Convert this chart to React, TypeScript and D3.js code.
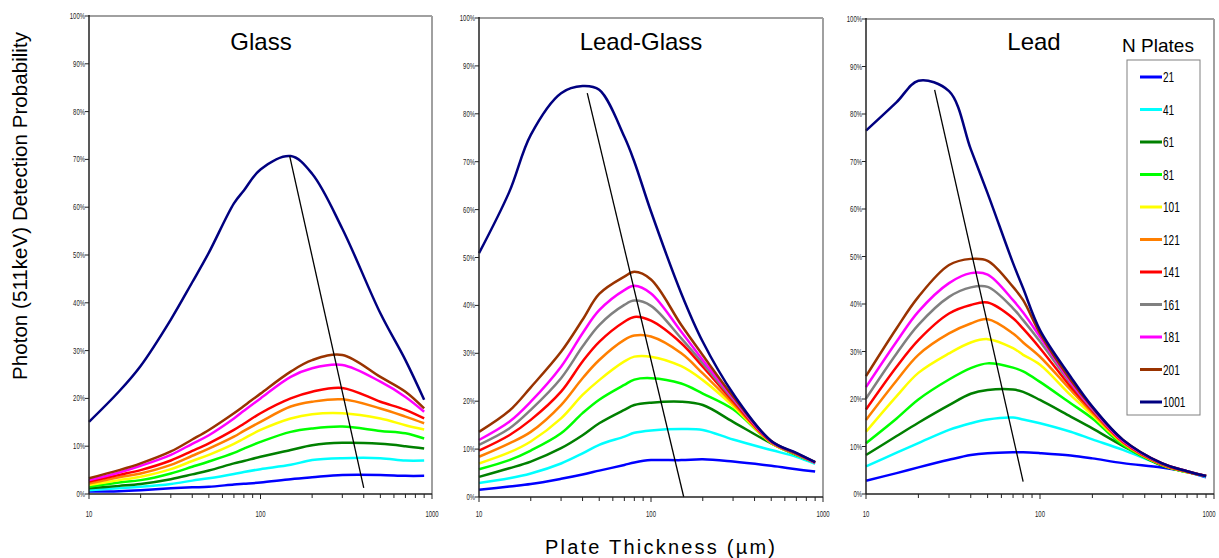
import React from 'react';
import * as d3 from 'd3';

// plate thickness (µm) sampled along x
const thickness = [10, 15, 20, 30, 40, 50, 70, 80, 100, 150, 200, 300, 500, 700, 900];
const nPlates = ['21', '41', '61', '81', '101', '121', '141', '161', '181', '201', '1001'];
const colors = ['#0000ff', '#00ffff', '#008000', '#00ff00', '#ffff00', '#ff7f00', '#ff0000', '#808080', '#ff00ff', '#993300', '#000080'];

// Glass (no 161 series drawn)
const glass21 = [0.5, 0.6, 0.8, 1.2, 1.4, 1.5, 2.0, 2.15, 2.4, 3.1, 3.5, 4.0, 4.0, 3.8, 3.8];
const glass41 = [0.8, 1.2, 1.5, 2.1, 2.8, 3.3, 4.2, 4.6, 5.2, 6.1, 7.1, 7.5, 7.5, 7.0, 7.0];
const glass61 = [1.2, 1.7, 2.1, 3.1, 4.1, 4.9, 6.4, 6.9, 7.8, 9.2, 10.2, 10.7, 10.5, 10.0, 9.5];
const glass81 = [1.5, 2.4, 2.9, 4.3, 5.7, 6.8, 8.6, 9.5, 10.9, 13.0, 13.7, 14.1, 13.2, 12.7, 11.6];
const glass101 = [1.9, 2.9, 3.6, 5.2, 6.9, 8.2, 10.5, 11.6, 13.4, 15.8, 16.7, 16.9, 15.8, 14.4, 13.5];
const glass121 = [2.2, 3.5, 4.3, 6.1, 8.0, 9.5, 12.0, 13.2, 15.1, 18.3, 19.3, 19.8, 17.9, 16.2, 14.8];
const glass141 = [2.6, 4.0, 5.0, 7.0, 9.0, 10.6, 13.4, 14.7, 16.9, 20.0, 21.4, 22.2, 19.3, 17.6, 15.8];
const glass181 = [2.9, 4.5, 5.9, 8.2, 10.5, 12.3, 15.8, 17.4, 20.0, 24.5, 26.3, 27.0, 23.5, 20.3, 17.2];
const glass201 = [3.3, 5.0, 6.4, 8.9, 11.4, 13.4, 16.9, 18.4, 21.0, 25.6, 28.0, 29.1, 24.5, 21.4, 17.9];
const glass1001 = [15.1, 21.5, 26.8, 36.5, 44.3, 50.5, 60.8, 63.5, 67.9, 70.7, 67.0, 55.5, 37.8, 28.0, 19.7];

// Lead-Glass
const leadGlass21 = [1.5, 2.2, 2.7, 3.8, 4.7, 5.5, 6.7, 7.2, 7.7, 7.7, 7.9, 7.4, 6.5, 5.8, 5.3];
const leadGlass41 = [2.9, 3.9, 4.9, 7.0, 9.1, 10.9, 12.6, 13.4, 13.9, 14.2, 14.0, 12.0, 9.8, 8.4, 6.9];
const leadGlass61 = [4.2, 6.0, 7.4, 10.2, 12.9, 15.4, 18.2, 19.2, 19.7, 19.9, 19.2, 15.7, 11.2, 8.8, 7.2];
const leadGlass81 = [5.8, 7.7, 9.7, 13.3, 17.5, 20.3, 23.4, 24.5, 24.8, 23.7, 21.6, 18.3, 11.3, 8.8, 7.2];
const leadGlass101 = [7.0, 9.3, 11.6, 16.4, 21.3, 24.4, 28.3, 29.3, 29.3, 27.3, 24.4, 19.0, 11.3, 8.9, 7.2];
const leadGlass121 = [8.4, 11.2, 13.6, 19.2, 24.8, 28.6, 32.8, 33.7, 33.5, 30.0, 25.8, 19.5, 11.4, 8.9, 7.2];
const leadGlass141 = [9.7, 12.9, 16.1, 22.0, 28.3, 32.4, 36.6, 37.6, 36.8, 32.1, 27.2, 20.0, 11.5, 9.0, 7.2];
const leadGlass161 = [10.9, 14.3, 18.2, 24.8, 31.4, 35.9, 40.1, 41.0, 39.9, 33.1, 27.9, 20.4, 11.6, 9.0, 7.2];
const leadGlass181 = [11.9, 15.7, 19.9, 27.2, 34.2, 39.0, 43.2, 44.1, 42.5, 34.5, 28.6, 20.7, 11.6, 9.1, 7.2];
const leadGlass201 = [13.6, 18.0, 22.9, 30.3, 37.0, 42.4, 46.0, 47.0, 45.4, 35.9, 29.6, 21.0, 11.7, 9.1, 7.3];
const leadGlass1001 = [50.9, 63.7, 75.6, 84.3, 85.8, 85.0, 75.2, 70.0, 59.6, 42.5, 32.4, 21.6, 11.7, 9.2, 7.3];

// Lead
const lead21 = [2.8, 4.4, 5.6, 7.2, 8.2, 8.6, 8.8, 8.8, 8.6, 8.1, 7.5, 6.5, 5.6, 4.7, 3.5];
const lead41 = [5.8, 8.7, 10.7, 13.5, 14.9, 15.7, 16.1, 15.7, 14.9, 13.1, 11.5, 9.3, 6.1, 4.6, 3.6];
const lead61 = [8.2, 12.2, 15.0, 18.7, 21.1, 21.9, 22.0, 21.5, 19.8, 16.3, 13.8, 10.1, 6.0, 4.6, 3.8];
const lead81 = [10.7, 15.9, 19.9, 24.1, 26.5, 27.5, 26.6, 25.8, 23.6, 19.1, 15.9, 10.3, 6.1, 4.6, 3.8];
const lead101 = [13.1, 20.6, 25.5, 29.6, 31.9, 32.6, 30.7, 29.3, 27.2, 20.8, 16.6, 10.7, 6.2, 4.6, 3.8];
const lead121 = [15.6, 23.9, 29.3, 33.8, 35.9, 36.8, 33.8, 31.9, 28.9, 21.9, 17.1, 10.8, 6.2, 4.7, 3.8];
const lead141 = [17.8, 26.8, 32.4, 38.0, 39.8, 40.3, 37.0, 34.8, 30.7, 22.6, 17.5, 11.0, 6.3, 4.7, 3.8];
const lead161 = [20.1, 29.6, 35.6, 41.5, 43.5, 43.6, 39.1, 36.6, 32.1, 23.3, 17.8, 11.2, 6.4, 4.8, 3.8];
const lead181 = [22.5, 32.1, 38.4, 44.4, 46.5, 46.2, 40.8, 38.2, 33.1, 23.6, 18.0, 11.2, 6.5, 4.8, 3.8];
const lead201 = [24.8, 34.9, 41.5, 48.2, 49.5, 49.1, 43.6, 40.8, 33.8, 24.0, 18.2, 11.4, 6.5, 4.8, 3.8];
const lead1001 = [76.5, 82.5, 87.0, 84.8, 72.6, 63.3, 48.6, 43.3, 34.5, 24.7, 18.4, 11.4, 6.5, 4.8, 3.8];

// black optimum lines: [thickness, %]
const glassOptimum = [[148, 70.7], [400, 1.3]];
const leadGlassOptimum = [[42.6, 84.3], [155, 0]];
const leadOptimum = [[24.8, 85.1], [80, 2.6]];

const yTicks = [0, 10, 20, 30, 40, 50, 60, 70, 80, 90, 100];
const xTickLabels = [10, 100, 1000];

const font = '"Liberation Sans", Arial, Helvetica, sans-serif';

const panels = [
  {
    title: 'Glass', titleX: 261, left: 89, right: 432, top: 16, bottom: 494,
    series: [glass21, glass41, glass61, glass81, glass101, glass121, glass141, null, glass181, glass201, glass1001],
    optimum: glassOptimum,
  },
  {
    title: 'Lead-Glass', titleX: 641, left: 479, right: 823, top: 18, bottom: 497,
    series: [leadGlass21, leadGlass41, leadGlass61, leadGlass81, leadGlass101, leadGlass121, leadGlass141, leadGlass161, leadGlass181, leadGlass201, leadGlass1001],
    optimum: leadGlassOptimum,
  },
  {
    title: 'Lead', titleX: 1034, left: 866, right: 1214, top: 19, bottom: 494,
    series: [lead21, lead41, lead61, lead81, lead101, lead121, lead141, lead161, lead181, lead201, lead1001],
    optimum: leadOptimum,
  },
];

const minorTicks = d3.range(1, 3).flatMap((e) => d3.range(1, 10).map((m) => m * Math.pow(10, e)));

const Panel = ({ p }) => {
  const x = d3.scaleLog().domain([10, 1000]).range([p.left, p.right]);
  const y = d3.scaleLinear().domain([0, 100]).range([p.bottom, p.top]);
  const line = d3
    .line<number>()
    .x((_, i) => x(thickness[i]))
    .y((d) => y(d))
    .curve(d3.curveCatmullRom.alpha(0.5));

  return (
    <g>
      {/* frame */}
      <line x1={p.left} x2={p.right} y1={p.top} y2={p.top} stroke="#a0a0a0" strokeWidth={2} />
      <line x1={p.right} x2={p.right} y1={p.top} y2={p.bottom} stroke="#a0a0a0" strokeWidth={2} />

      {p.series.map((s, i) =>
        s ? <path key={i} d={line(s)} fill="none" stroke={colors[i]} strokeWidth={2.5} strokeLinejoin="round" /> : null
      )}

      <line
        x1={x(p.optimum[0][0])} y1={y(p.optimum[0][1])}
        x2={x(p.optimum[1][0])} y2={y(p.optimum[1][1])}
        stroke="#000" strokeWidth={1.3}
      />

      {/* axes */}
      <line x1={p.left} x2={p.left} y1={p.top - 1} y2={p.bottom} stroke="#222" strokeWidth={1.5} />
      <line x1={p.left} x2={p.right} y1={p.bottom} y2={p.bottom} stroke="#222" strokeWidth={1.5} />

      {yTicks.map((t) => (
        <g key={t} transform={`translate(${p.left}, ${y(t)})`}>
          <line x1={-4} x2={0} stroke="#222" />
          <text transform="translate(-4, 3) scale(0.7, 1)" textAnchor="end" fontSize={8.5} fill="#222" fontFamily={font}>
            {t}%
          </text>
        </g>
      ))}

      {minorTicks.concat([1000]).map((t) => (
        <line key={t} x1={x(t)} x2={x(t)} y1={p.bottom} y2={p.bottom + (t === 10 || t === 100 || t === 1000 ? 5 : 4)} stroke="#222" />
      ))}

      {xTickLabels.map((t) => (
        <text key={t} transform={`translate(${Math.min(x(t), 1209)}, 517) scale(0.7, 1)`} textAnchor="middle" fontSize={8.5} fill="#222" fontFamily={font}>
          {t}
        </text>
      ))}

      <text x={p.titleX} y={50} textAnchor="middle" fontSize={24} fontFamily={font} fill="#000">
        {p.title}
      </text>
    </g>
  );
};

const Legend = () => {
  const ly = d3.scalePoint().domain(nPlates).range([77, 402]);
  return (
    <g>
      <text x={1158} y={52} textAnchor="middle" fontSize={19} fontFamily={font} fill="#000">
        N Plates
      </text>
      <rect x={1127} y={60} width={73} height={355} fill="#fff" stroke="#808080" strokeWidth={1} />
      {nPlates.map((n, i) => (
        <g key={n} transform={`translate(0, ${ly(n)})`}>
          <line x1={1140} x2={1162} stroke={colors[i]} strokeWidth={3} />
          <text transform="translate(1163, 5) scale(0.72, 1)" fontSize={14} fontFamily={font} fill="#000">
            {n}
          </text>
        </g>
      ))}
    </g>
  );
};

const App = () => {
  return (
    <svg width={1219} height={558} style={{ position: 'absolute', left: 0, top: 0, background: '#fff' }}>
      <rect width={1219} height={558} fill="#fff" />
      {panels.map((p) => (
        <Panel key={p.title} p={p} />
      ))}
      <Legend />
      <text
        transform="translate(27, 206) rotate(-90)"
        textAnchor="middle" fontSize={20.5} fontFamily={font} fill="#000"
        textLength={348} lengthAdjust="spacing"
      >
        Photon (511keV) Detection Probability
      </text>
      <text x={660} y={554} textAnchor="middle" fontSize={20} fontFamily={font} fill="#000" textLength={230} lengthAdjust="spacing">
        Plate Thickness (µm)
      </text>
    </svg>
  );
};

export default App;
